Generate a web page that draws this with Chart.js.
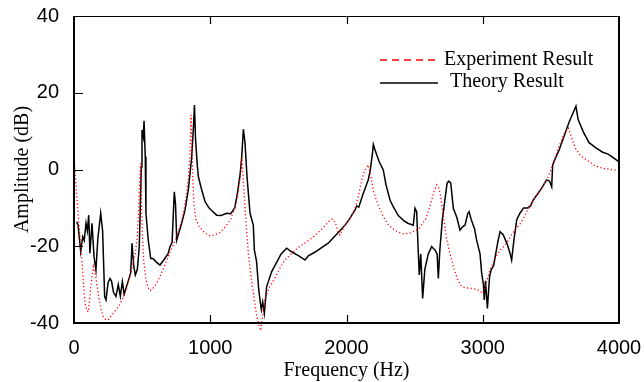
<!DOCTYPE html>
<html>
<head>
<meta charset="utf-8">
<script src="https://cdn.jsdelivr.net/npm/chart.js@4.4.1/dist/chart.umd.min.js"></script>
<style>
  html, body { margin: 0; padding: 0; background: #fff; }
  canvas { display: block; }
</style>
</head>
<body>
<canvas id="chart" width="644" height="382"></canvas>
<script>
/*****************************************
 * 1. DATA
 *****************************************/
// Theory result (black solid line)
const theoryFreq = [20, 30, 49, 64, 75, 88, 98, 108, 117, 132, 147, 161, 175, 196, 210, 225, 235, 250, 264, 275,
    290, 308, 325, 340, 355, 368, 390, 416, 426, 438, 450, 465, 479, 494, 499, 509, 514, 523, 528, 545,
    563, 580, 600, 631, 660, 690, 705, 720, 736, 745, 754, 765, 790, 815, 840, 864, 878, 884, 892, 905,
    913, 935, 962, 990, 1020, 1047, 1080, 1120, 1150, 1180, 1200, 1220, 1231, 1243, 1255, 1270, 1292, 1316, 1324, 1340,
    1355, 1365, 1375, 1385, 1397, 1414, 1451, 1490, 1520, 1561, 1600, 1650, 1695, 1720, 1770, 1820, 1866, 1910, 1950, 1989,
    2020, 2062, 2075, 2090, 2120, 2160, 2175, 2190, 2197, 2210, 2240, 2270, 2290, 2320, 2343, 2380, 2420, 2450, 2490, 2503,
    2515, 2525, 2534, 2545, 2559, 2575, 2600, 2625, 2650, 2665, 2674, 2685, 2703, 2738, 2750, 2765, 2784, 2810, 2833, 2850,
    2870, 2890, 2900, 2915, 2940, 2955, 2980, 2992, 3005, 3011, 3020, 3034, 3050, 3061, 3080, 3095, 3110, 3127, 3150, 3180,
    3200, 3212, 3230, 3250, 3273, 3300, 3330, 3350, 3371, 3400, 3430, 3469, 3490, 3506, 3513, 3540, 3560, 3591, 3620, 3640,
    3660, 3684, 3700, 3738, 3780, 3836, 3880, 3920, 3960, 4000];
const theoryAmp = [-13.6, -14.5, -21.4, -17.5, -18.5, -14.0, -16.0, -11.9, -21.8, -14.0, -22.7, -26.2, -18.0, -11.4, -16.0, -33.1, -34.0, -29.5, -28.4, -29.0,
    -32.0, -33.1, -30.0, -33.0, -29.2, -32.5, -30.0, -27.0, -19.2, -25.0, -27.5, -26.0, -20.1, 0.7, 10.3, 8.5, 12.7, 3.3, -11.4, -18.4,
    -23.2, -23.2, -24.0, -24.9, -23.5, -22.0, -20.1, -19.0, -5.8, -9.0, -18.4, -17.0, -14.0, -10.6, -5.0, 3.3, 12.0, 16.8, 8.0, 1.0,
    -1.9, -5.0, -8.4, -10.0, -11.0, -11.9, -12.0, -11.4, -11.5, -10.0, -6.0, -1.0, 3.3, 10.5, 7.0, -2.0, -11.4, -14.5, -21.0, -24.0,
    -31.0, -34.0, -36.5, -34.5, -37.5, -30.5, -26.6, -24.0, -22.0, -20.5, -21.5, -22.5, -23.6, -22.5, -21.5, -20.3, -19.2, -17.5, -16.0, -14.5,
    -13.0, -10.6, -9.5, -9.8, -6.5, -2.7, 0.0, 4.0, 6.5, 5.0, 2.0, -0.1, -4.0, -8.0, -9.7, -12.0, -13.3, -14.0, -14.5, -10.1,
    -11.0, -20.0, -27.5, -22.0, -33.6, -26.0, -22.0, -20.1, -21.0, -22.0, -28.4, -21.0, -13.2, -3.6, -3.0, -3.5, -10.1, -12.5, -15.8, -15.0,
    -14.5, -11.5, -11.0, -13.0, -15.5, -18.4, -22.0, -27.0, -30.0, -34.0, -29.0, -36.2, -28.0, -26.2, -25.0, -22.0, -19.0, -16.2, -17.0, -19.5,
    -21.8, -23.6, -18.0, -13.0, -11.4, -10.0, -10.0, -9.5, -7.9, -6.5, -5.0, -2.7, -3.0, -4.5, 1.2, 3.5, 5.0, 8.1, 11.0, 12.9,
    14.5, 16.5, 13.0, 9.8, 7.0, 5.5, 4.5, 4.0, 3.0, 2.0];

// Experiment result (red dotted line)
const expFreq = [0, 20, 44, 68, 81, 93, 105, 125, 142, 160, 180, 200, 215, 235, 255, 275, 300, 330, 360, 385,
    410, 430, 450, 465, 475, 482, 489, 495, 502, 512, 530, 552, 570, 600, 630, 660, 700, 730, 754, 790,
    820, 840, 852, 859, 866, 872, 880, 895, 920, 960, 1000, 1022, 1070, 1110, 1150, 1180, 1200, 1220, 1231, 1240,
    1250, 1265, 1280, 1300, 1320, 1340, 1353, 1370, 1385, 1400, 1430, 1470, 1512, 1549, 1585, 1640, 1700, 1760, 1820, 1870,
    1896, 1920, 1935, 1952, 1980, 2020, 2060, 2090, 2110, 2130, 2160, 2180, 2200, 2230, 2270, 2310, 2360, 2417, 2470, 2530,
    2580, 2610, 2640, 2662, 2674, 2686, 2710, 2735, 2760, 2790, 2820, 2845, 2870, 2920, 2960, 3004, 3030, 3053, 3090, 3127,
    3170, 3220, 3286, 3330, 3380, 3430, 3481, 3520, 3560, 3600, 3628, 3650, 3680, 3720, 3763, 3820, 3880, 3940, 4000];
const expAmp = [3.3, -7.1, -17.5, -28.8, -34.9, -36.6, -37.1, -30.0, -25.3, -28.0, -33.0, -36.5, -38.4, -39.2, -39.0, -38.0, -37.0, -35.5, -33.5, -31.0,
    -28.0, -25.0, -22.0, -17.0, -10.0, -3.0, 1.6, -8.0, -17.0, -24.0, -29.0, -31.5, -31.4, -30.0, -28.0, -25.5, -22.0, -19.5, -17.5, -13.5,
    -8.0, -2.0, 5.0, 14.2, 6.0, -2.0, -9.0, -13.0, -15.0, -16.5, -17.3, -17.1, -16.5, -15.0, -13.0, -10.0, -7.0, -2.0, 3.0, -1.0,
    -7.0, -15.0, -22.0, -28.0, -33.0, -38.0, -40.0, -42.0, -38.0, -34.0, -31.0, -28.5, -25.7, -23.5, -22.3, -20.5, -19.0, -17.5, -15.5, -13.5,
    -12.9, -14.0, -16.0, -17.1, -15.0, -13.0, -10.5, -6.5, -3.0, -0.5, 1.2, -2.0, -6.0, -9.0, -12.3, -14.5, -16.0, -16.8, -16.5, -15.5,
    -13.0, -10.0, -6.0, -4.0, -4.5, -6.0, -12.0, -18.0, -22.0, -26.0, -29.0, -30.5, -30.8, -31.0, -31.3, -32.3, -29.0, -26.2, -23.1, -21.0,
    -19.5, -16.5, -13.6, -10.5, -7.5, -5.0, -1.9, 2.0, 6.0, 9.5, 10.8, 8.5, 5.5, 3.5, 2.5, 1.0, 0.3, 0.0, -0.3];

const xTicks = [0, 1000, 2000, 3000, 4000];
const yTicks = [-40, -20, 0, 20, 40];

const toPoints = (xs, ys) => xs.map((x, i) => ({ x: x, y: ys[i] }));

/*****************************************
 * 2. FRAME, INWARD TICKS AND LEGEND
 *****************************************/
const framePlugin = {
    id: 'framePlugin',
    afterDatasetsDraw(chart) {
        const { ctx, chartArea: a, scales } = chart;
        ctx.save();
        ctx.strokeStyle = '#000';
        // thin top edge
        ctx.lineWidth = 1;
        ctx.beginPath();
        ctx.moveTo(a.left, a.top + 0.5);
        ctx.lineTo(a.right, a.top + 0.5);
        ctx.stroke();
        // heavier left, bottom, right edges
        ctx.lineWidth = 2;
        ctx.beginPath();
        ctx.moveTo(a.left, a.top);
        ctx.lineTo(a.left, a.bottom);
        ctx.lineTo(a.right, a.bottom);
        ctx.lineTo(a.right, a.top);
        ctx.stroke();
        // inward ticks
        ctx.lineWidth = 1.2;
        ctx.beginPath();
        xTicks.slice(1, -1).forEach(v => {
            const px = Math.round(scales.x.getPixelForValue(v)) + 0.5;
            ctx.moveTo(px, a.bottom);
            ctx.lineTo(px, a.bottom - 8);
            ctx.moveTo(px, a.top);
            ctx.lineTo(px, a.top + 8);
        });
        yTicks.slice(1, -1).forEach(v => {
            const py = Math.round(scales.y.getPixelForValue(v)) + 0.5;
            ctx.moveTo(a.left, py);
            ctx.lineTo(a.left + 9, py);
        });
        ctx.stroke();
        ctx.restore();
    },
    afterDraw(chart) {
        const { ctx, chartArea: a } = chart;
        const x0 = a.left + 306, x1 = a.left + 364;
        ctx.save();
        ctx.font = '20px "Liberation Serif"';
        ctx.fillStyle = '#000';
        ctx.textBaseline = 'middle';
        // Experiment row
        ctx.strokeStyle = '#ff0000';
        ctx.lineWidth = 1.5;
        ctx.setLineDash([7, 5]);
        ctx.beginPath();
        ctx.moveTo(x0, a.top + 44);
        ctx.lineTo(x1, a.top + 44);
        ctx.stroke();
        ctx.fillText('Experiment Result', x1 + 6, a.top + 44);
        // Theory row
        ctx.strokeStyle = '#000';
        ctx.setLineDash([]);
        ctx.beginPath();
        ctx.moveTo(x0, a.top + 67);
        ctx.lineTo(x1, a.top + 67);
        ctx.stroke();
        ctx.fillText('Theory Result', x1 + 12, a.top + 66);
        ctx.restore();
    }
};

/*****************************************
 * 3. CHART
 *****************************************/
const ctx = document.getElementById('chart').getContext('2d');
const chart = new Chart(ctx, {
    type: 'line',
    data: {
        datasets: [
            {
                label: 'Experiment Result',
                data: toPoints(expFreq, expAmp),
                borderColor: '#ff0000',
                borderWidth: 1.3,
                borderDash: [1.2, 2.4],
                pointRadius: 0,
                tension: 0,
                clip: { left: 0, top: 0, right: 0, bottom: 10 }
            },
            {
                label: 'Theory Result',
                data: toPoints(theoryFreq, theoryAmp),
                borderColor: '#000000',
                borderWidth: 1.5,
                pointRadius: 0,
                tension: 0
            }
        ]
    },
    options: {
        responsive: false,
        animation: false,
        devicePixelRatio: 1,
        layout: { padding: { top: 16, right: 25, left: 0, bottom: 0 } },
        plugins: {
            legend: { display: false },
            tooltip: { enabled: false }
        },
        scales: {
            x: {
                type: 'linear',
                min: 0,
                max: 4000,
                afterFit: s => { s.height = 59; s.paddingLeft = 0; s.paddingRight = 0; },
                afterBuildTicks: s => { s.ticks = xTicks.map(v => ({ value: v })); },
                grid: { display: false },
                border: { display: false },
                ticks: {
                    color: '#000',
                    padding: 5,
                    maxRotation: 0,
                    callback: v => String(v),
                    font: { family: '"Liberation Sans", Arial', size: 20 }
                },
                title: {
                    display: true,
                    text: 'Frequency (Hz)',
                    color: '#000',
                    padding: { top: 0, bottom: 1 },
                    font: { family: '"Liberation Serif"', size: 20, lineHeight: 1 }
                }
            },
            y: {
                min: -40,
                max: 40,
                afterFit: s => { s.width = 74; s.paddingTop = 0; s.paddingBottom = 0; },
                afterBuildTicks: s => { s.ticks = yTicks.map(v => ({ value: v })); },
                grid: { display: false },
                border: { display: false },
                ticks: {
                    color: '#000',
                    padding: 7,
                    callback: v => String(v),
                    font: { family: '"Liberation Sans", Arial', size: 20 }
                },
                title: {
                    display: true,
                    text: 'Amplitude (dB)',
                    color: '#000',
                    padding: { top: 13, bottom: 0 },
                    font: { family: '"Liberation Serif"', size: 20, lineHeight: 1 }
                }
            }
        }
    },
    plugins: [framePlugin]
});
</script>
</body>
</html>
